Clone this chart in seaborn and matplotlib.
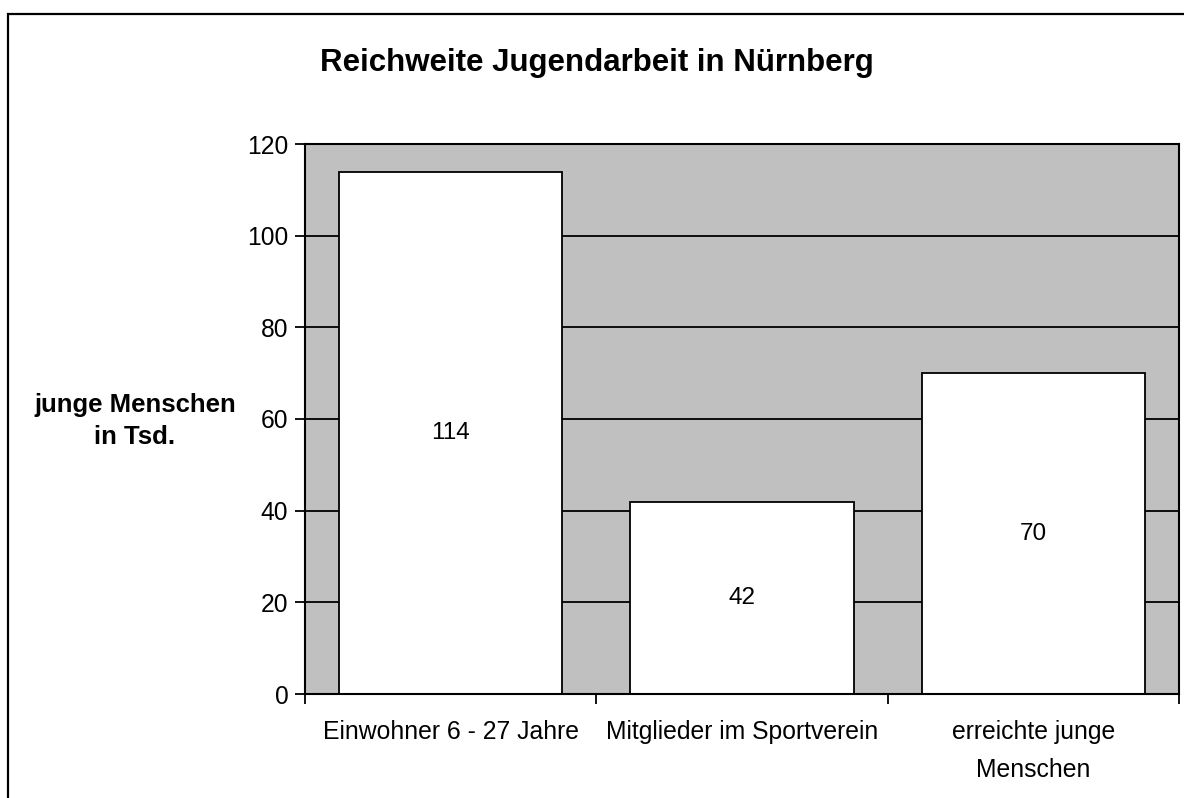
import matplotlib
matplotlib.use("Agg")
import matplotlib.pyplot as plt
import seaborn as sns
from matplotlib.patches import Rectangle

# data
categories = ["Einwohner 6 - 27 Jahre", "Mitglieder im Sportverein", "erreichte junge\nMenschen"]
values = [114, 42, 70]
y_ticks = [0, 20, 40, 60, 80, 100, 120]

sns.set_style("white")
plt.rcParams['font.family'] = ['Liberation Sans', 'DejaVu Sans']
plt.rcParams['text.color'] = 'black'
plt.rcParams['xtick.color'] = 'black'
plt.rcParams['ytick.color'] = 'black'

fig = plt.figure(figsize=(11.84, 7.98), dpi=100)
ax = fig.add_axes([305/1184, 1 - 694/798, 874/1184, 550/798])
ax.set_facecolor("#c0c0c0")

sns.barplot(x=categories, y=values, color="white", edgecolor="black",
            linewidth=1.3, width=0.766, saturation=1, ax=ax)
ax.bar_label(ax.containers[0], labels=[str(v) for v in values],
             label_type="center", fontsize=17.5, color="black")

ax.set_ylim(0, 120)
ax.set_yticks(y_ticks)
ax.yaxis.grid(True, color="black", linewidth=1.3)
ax.set_axisbelow(True)

# ticks between the categories, labels in the middle
ax.set_xlim(-0.5, 2.5)
ax.set_xticks([-0.5, 0.5, 1.5, 2.5])
ax.set_xticklabels([])
ax.set_xticks([0, 1, 2], minor=True)
ax.set_xticklabels(categories, minor=True, fontsize=17.8, linespacing=1.7)
ax.tick_params(axis="x", which="minor", length=0, pad=19)
ax.tick_params(axis="x", which="major", length=7, width=1.3, direction="out")
ax.tick_params(axis="y", length=7, width=1.3, direction="out", labelsize=17.7, pad=5)
ax.xaxis.set_ticks_position("bottom")
ax.yaxis.set_ticks_position("left")

for s in ax.spines.values():
    s.set_visible(True)
    s.set_color("black")
    s.set_linewidth(1.5)

ax.set_ylabel("")
fig.text(135/1184, 1 - 421/798, "junge Menschen\nin Tsd.", ha="center", va="center",
         fontsize=18.5, fontweight="bold", linespacing=1.4)
fig.text(597/1184, 1 - 63/798, "Reichweite Jugendarbeit in Nürnberg", ha="center",
         va="center", fontsize=22.5, fontweight="bold")

# outer chart border (cropped at right and bottom)
fig.patches.append(Rectangle((8/1184, -0.5), 1.5, 1.5 - 14/798,
                             transform=fig.transFigure, fill=False,
                             edgecolor="black", linewidth=1.6))

fig.savefig("out.png", dpi=100)
